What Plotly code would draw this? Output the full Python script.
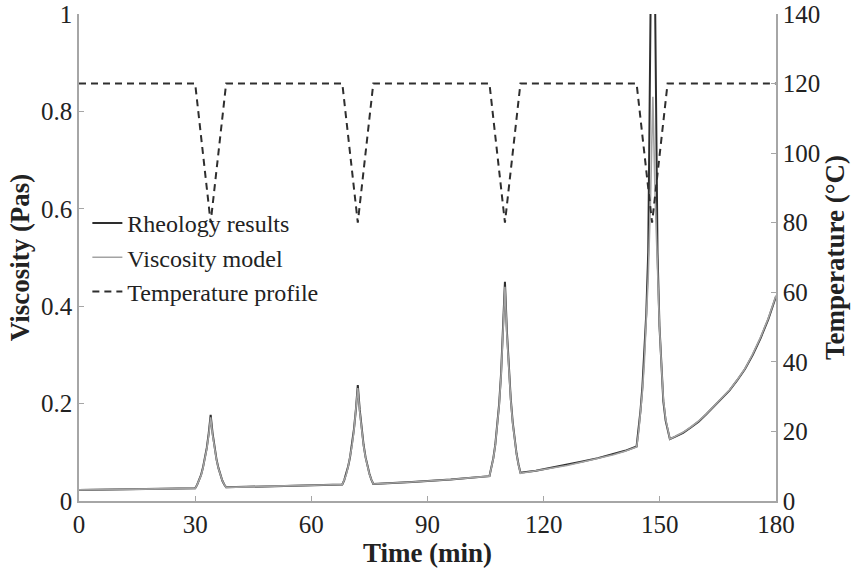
import plotly.graph_objects as go

# ---- data ----
time_rheo = [0, 10, 20,
             30, 30.5, 31, 31.5, 32, 32.5, 33, 33.5, 34, 34.5, 35, 35.5, 36, 36.5, 37, 37.5, 38,
             48, 58,
             68, 68.5, 69, 69.5, 70, 70.5, 71, 71.5, 72, 72.5, 73, 73.5, 74, 74.5, 75, 75.5, 76,
             86, 96,
             106, 106.5, 107, 107.5, 108, 108.5, 109, 109.5, 110, 110.5, 111, 111.5, 112, 112.5, 113, 113.5, 114,
             118, 122, 126, 130, 134, 138, 141,
             144, 144.5, 145, 145.5, 146, 146.5, 147, 147.3, 147.5, 147.7, 148.2, 148.75, 148.95, 149.2, 149.4,
             149.9, 150.4, 150.9, 151.5, 152.1, 152.6,
             154, 156, 158, 160, 162, 164, 166, 168, 170, 172, 174, 176, 178, 180]
visc_rheo = [0.0226, 0.0235, 0.0245,
             0.026, 0.033, 0.042, 0.053, 0.068, 0.086, 0.109, 0.139, 0.177, 0.139, 0.109, 0.086, 0.068, 0.053, 0.042, 0.034, 0.028,
             0.030, 0.032,
             0.034, 0.043, 0.055, 0.071, 0.090, 0.115, 0.147, 0.187, 0.238, 0.187, 0.147, 0.115, 0.090, 0.071, 0.056, 0.044, 0.035,
             0.039, 0.044,
             0.051, 0.067, 0.088, 0.115, 0.151, 0.199, 0.261, 0.343, 0.450, 0.349, 0.270, 0.210, 0.162, 0.126, 0.097, 0.075, 0.058,
             0.062, 0.068, 0.074, 0.081, 0.088, 0.096, 0.103,
             0.112, 0.145, 0.185, 0.235, 0.300, 0.385, 0.510, 0.680, 0.850, 1.050, 1.500, 1.050, 0.850, 0.620, 0.510,
             0.360, 0.270, 0.205, 0.165, 0.140, 0.127,
             0.132, 0.140, 0.151, 0.163, 0.178, 0.194, 0.210, 0.227, 0.248, 0.271, 0.300, 0.334, 0.373, 0.420]

time_model = [0, 10, 20,
              30, 30.5, 31, 31.5, 32, 32.5, 33, 33.5, 34, 34.5, 35, 35.5, 36, 36.5, 37, 37.5, 38,
              48, 58,
              68, 68.5, 69, 69.5, 70, 70.5, 71, 71.5, 72, 72.5, 73, 73.5, 74, 74.5, 75, 75.5, 76,
              86, 96,
              106, 106.5, 107, 107.5, 108, 108.5, 109, 109.5, 110, 110.5, 111, 111.5, 112, 112.5, 113, 113.5, 114,
              118, 122, 126, 130, 134, 138, 141,
              144, 144.5, 145, 145.5, 146, 146.5, 147, 147.6, 148.2, 148.8, 149.4,
              149.9, 150.4, 150.9, 151.5, 152.1, 152.6,
              154, 156, 158, 160, 162, 164, 166, 168, 170, 172, 174, 176, 178, 180]
visc_model = [0.0228, 0.0236, 0.0246,
              0.026, 0.033, 0.041, 0.052, 0.067, 0.085, 0.107, 0.136, 0.172, 0.136, 0.107, 0.085, 0.067, 0.053, 0.042, 0.034, 0.028,
              0.030, 0.032,
              0.034, 0.043, 0.054, 0.070, 0.089, 0.113, 0.144, 0.183, 0.232, 0.183, 0.144, 0.113, 0.089, 0.070, 0.055, 0.044, 0.035,
              0.039, 0.044,
              0.051, 0.066, 0.087, 0.114, 0.149, 0.196, 0.257, 0.337, 0.440, 0.342, 0.265, 0.207, 0.160, 0.125, 0.096, 0.074, 0.057,
              0.062, 0.067, 0.073, 0.080, 0.087, 0.095, 0.102,
              0.111, 0.140, 0.178, 0.225, 0.285, 0.360, 0.460, 0.620, 0.830, 0.620, 0.460,
              0.360, 0.280, 0.210, 0.168, 0.141, 0.127,
              0.133, 0.141, 0.152, 0.164, 0.179, 0.195, 0.211, 0.228, 0.249, 0.272, 0.302, 0.336, 0.375, 0.422]

time_temp = [0, 30, 34, 38, 68, 72, 76, 106, 110, 114, 144, 148, 152, 180]
temp_profile = [120, 120, 80, 120, 120, 80, 120, 120, 80, 120, 120, 80, 120, 120]

x_ticks = [0, 30, 60, 90, 120, 150, 180]
y_ticks = [0, 0.2, 0.4, 0.6, 0.8, 1]
y_ticktext = ["0", "0.2", "0.4", "0.6", "0.8", "1"]
y2_ticks = [0, 20, 40, 60, 80, 100, 120, 140]

FONT = "Liberation Serif, Times New Roman, serif"
AXC = "#a6a6a6"
TXT = "#222222"

fig = go.Figure()
fig.add_trace(go.Scatter(x=time_rheo, y=visc_rheo, mode="lines", name="Rheology results",
                         line=dict(color="#2e2e2e", width=2)))
fig.add_trace(go.Scatter(x=time_model, y=visc_model, mode="lines", name="Viscosity model",
                         line=dict(color="#a3a3a3", width=1.6)))
fig.add_trace(go.Scatter(x=time_temp, y=temp_profile, mode="lines", name="Temperature profile",
                         yaxis="y2", line=dict(color="#2e2e2e", width=2, dash="7px,5px")))

axis_common = dict(ticks="inside", ticklen=5, tickcolor=AXC, showline=True, linecolor=AXC,
                   linewidth=1.5, showgrid=False, zeroline=False, automargin=False,
                   tickfont=dict(size=25, family=FONT, color=TXT))

fig.update_layout(
    width=858, height=573,
    margin=dict(l=79, r=82, t=14, b=72, autoexpand=False),
    paper_bgcolor="white", plot_bgcolor="white",
    font=dict(family=FONT, size=25, color=TXT),
    showlegend=True,
    legend=dict(x=0.012, y=0.616, xanchor="left", yanchor="top",
                bgcolor="rgba(0,0,0,0)", font=dict(family=FONT, size=24, color=TXT),
                tracegroupgap=0, itemwidth=30),
    xaxis=dict(range=[0, 180], tickvals=x_ticks,
               title=dict(text="<b>Time (min)</b>", font=dict(size=27, family=FONT, color=TXT), standoff=6),
               **axis_common),
    yaxis=dict(range=[0, 1], tickvals=y_ticks, ticktext=y_ticktext,
               title=dict(text="<b>Viscosity (Pas)</b>", font=dict(size=27, family=FONT, color=TXT), standoff=4),
               **axis_common),
    yaxis2=dict(range=[0, 140], tickvals=y2_ticks, overlaying="y", side="right",
                title=dict(text="<b>Temperature (°C)</b>", font=dict(size=27, family=FONT, color=TXT), standoff=4),
                **axis_common),
)

fig.write_html("out.html")
